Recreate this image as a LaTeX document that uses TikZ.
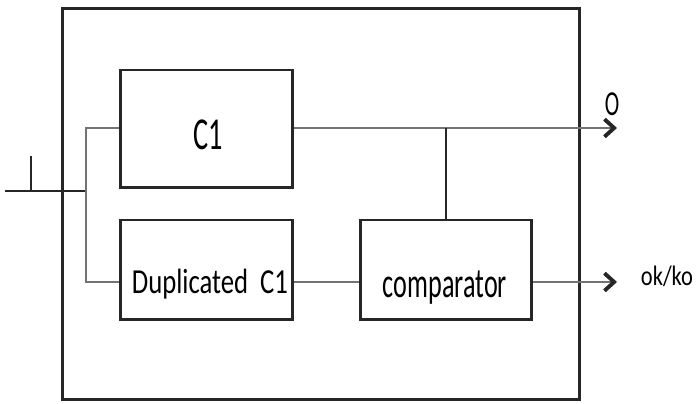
\documentclass[tikz,border=0pt]{standalone}
\usepackage{fontspec}
\setmainfont{Carlito}
\usepackage{graphicx}
\usetikzlibrary{arrows.meta}
\newcommand{\narrow}[2][0.62]{\scalebox{#1}[1]{#2}}

\begin{document}
\begin{tikzpicture}[x=0.02cm,y=-0.02cm,>={Straight Barb[length=5.5pt,width=10pt,line width=2.2pt,color=black!85]}]
\tikzset{blk/.style={draw=black!85,line width=1.7pt,inner sep=0pt},
 wire/.style={draw=black!55,line width=1.2pt},
 lbl/.style={inner sep=0pt}}
\useasboundingbox (0,0) rectangle (698,404);

% system frame and the three blocks
\node[blk,minimum width=10.36cm,minimum height=7.84cm] (sys) at (321,204) {};
\node[blk,minimum width=3.46cm,minimum height=2.36cm] (c1) at (206.5,129) {};
\node[blk,minimum width=3.46cm,minimum height=2cm] (dup) at (206.5,270) {};
\node[blk,minimum width=3.44cm,minimum height=2cm] (cmp) at (446,270) {};
\node[lbl,font=\fontsize{26}{30}\selectfont] (c1t) at (208,135) {\narrow{C1}};
\node[lbl,font=\fontsize{20}{24}\selectfont] (dupt) at (210,284) {\narrow[0.76]{Duplicated\ \ C1}};
\node[lbl,font=\fontsize{24}{28}\selectfont] (cmpt) at (445,288) {\narrow{comparator}};

% input and its split
\coordinate (in) at (5,191);
\coordinate (tick) at (31,156);
\coordinate (jn) at (86,191);
\coordinate (up) at (86,128);
\coordinate (dn) at (86,282);
\draw[black!85,line width=1.6pt] (in) -- (jn);
\draw[black!85,line width=1.2pt] (tick) -- (tick |- in);
\draw[wire] (c1.west |- up) -- (up) -- (dn) -- (dup.west |- dn);

% outputs
\coordinate (o) at (617,128);
\coordinate (ok) at (617,282);
\draw[wire,->] (c1.east |- o) -- (o);
\draw[black!85,line width=1.2pt] (cmp.north |- o) -- (cmp.north);
\draw[wire] (dup.east |- dn) -- (cmp.west |- dn);
\draw[wire,->] (cmp.east |- ok) -- (ok);
\node[lbl,font=\fontsize{20}{24}\selectfont] (ot) at (612,104) {\narrow{O}};
\node[lbl,font=\fontsize{16}{20}\selectfont] (okt) at (667,276) {\narrow[0.8]{ok/ko}};
\end{tikzpicture}
\end{document}
